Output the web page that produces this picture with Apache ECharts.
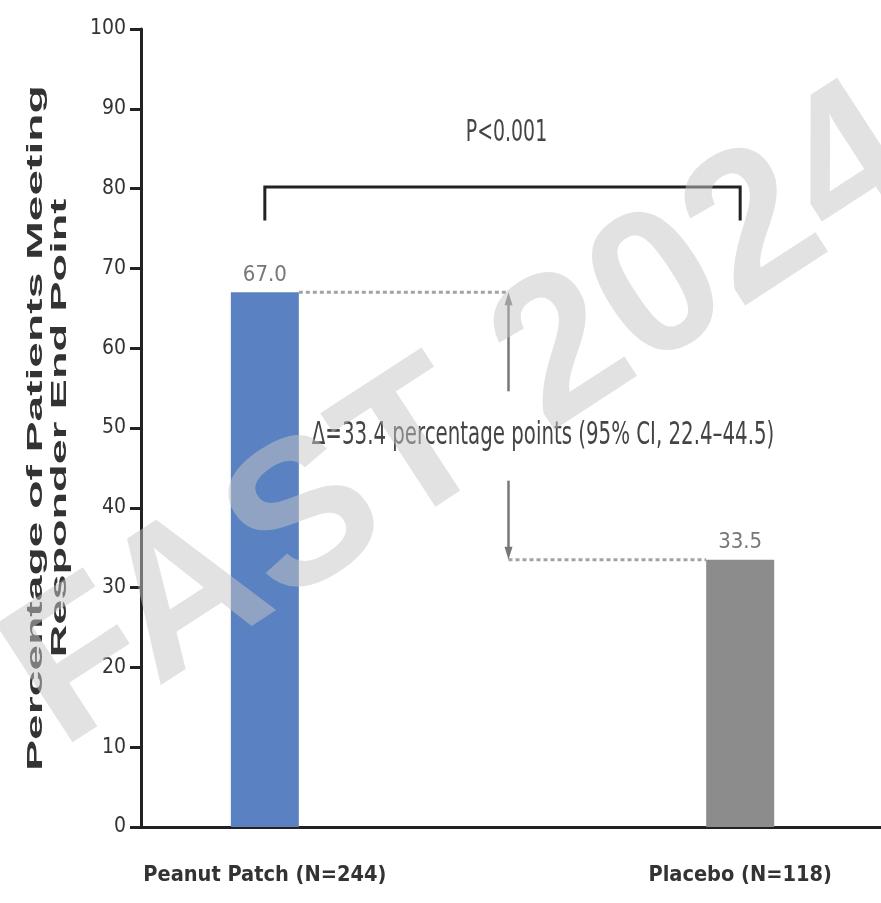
<!DOCTYPE html>
<html>
<head>
<meta charset="utf-8">
<title>Peanut Patch responder end point</title>
<script src="https://cdn.jsdelivr.net/npm/echarts@6/dist/echarts.min.js"></script>
<style>
  html, body { margin: 0; padding: 0; background: #fff; }
  #main { width: 881px; height: 903px; }
</style>
</head>
<body>
<div id="main"></div>
<script>
// data
var categories = ['Peanut Patch (N=244)', '', 'Placebo (N=118)'];
var responders = [67.0, null, 33.5];
var barColors = ['#5a81c1', null, '#8c8c8c'];
var yTicks = [0, 10, 20, 30, 40, 50, 60, 70, 80, 90, 100];
var pText = 'P<0.001';
var deltaText = 'Δ=33.4 percentage points (95% CI, 22.4–44.5)';
var yTitle = ['Percentage of Patients Meeting', 'Responder End Point'];
var watermark = 'FAST 2024';

// annotation levels (in axis units)
var bracketLevel = 80.2, bracketLeg = 76.0, pLevel = 87.0;
var deltaLevel = 49.0, arrowGapTop = 54.6, arrowGapBottom = 43.4;

var narrow = '"Liberation Sans Narrow", "DejaVu Sans Condensed", sans-serif';
var chart = echarts.init(document.getElementById('main'));

var option = {
    animation: false,
    backgroundColor: '#fff',
    grid: [
        {left: 141, right: 0, top: 29, bottom: 76},
        {left: 146, right: 22, top: 29, bottom: 76}
    ],
    xAxis: [
        {
            gridIndex: 0, type: 'value', min: 0, max: 1,
            axisLine: {show: true, lineStyle: {color: '#222', width: 3}},
            axisTick: {show: false}, axisLabel: {show: false}, splitLine: {show: false}
        },
        {
            gridIndex: 1, type: 'category', data: categories,
            axisLine: {show: false}, axisTick: {show: false},
            axisLabel: {
                margin: 37, color: '#333', fontFamily: narrow,
                fontWeight: 'bold', fontSize: 21.6
            }
        }
    ],
    yAxis: [
        {
            gridIndex: 0, type: 'value',
            min: yTicks[0], max: yTicks[yTicks.length - 1], interval: yTicks[1] - yTicks[0],
            axisLine: {show: true, lineStyle: {color: '#222', width: 3}},
            axisTick: {show: true, length: 11, lineStyle: {color: '#222', width: 3}},
            axisLabel: {margin: 15, color: '#333', fontFamily: narrow, fontSize: 21},
            splitLine: {show: false}
        },
        {
            gridIndex: 1, type: 'value',
            min: yTicks[0], max: yTicks[yTicks.length - 1],
            show: false, splitLine: {show: false}
        }
    ],
    series: [
        {
            type: 'bar',
            xAxisIndex: 1,
            yAxisIndex: 1,
            barWidth: 68,
            data: responders.map(function (v, i) {
                return {value: v, itemStyle: {color: barColors[i]}};
            }),
            label: {
                show: true, position: 'top', distance: 6,
                color: '#777', fontFamily: narrow, fontSize: 22,
                formatter: function (p) { return p.value == null ? '' : p.value.toFixed(1); }
            }
        }
    ]
};

chart.setOption(option);

// annotations placed through the axes
function px(cat, val) {
    return chart.convertToPixel({xAxisIndex: 1, yAxisIndex: 1}, [cat, val]);
}
var half = 34;
var a = px(0, responders[0]);
var b = px(2, responders[2]);
var mid = px(1, deltaLevel);
var yTop = px(1, arrowGapTop)[1], yBot = px(1, arrowGapBottom)[1];
var yBr = px(0, bracketLevel)[1], yLeg = px(0, bracketLeg)[1];
var yP = px(1, pLevel)[1];
var ax = mid[0] + 6;
var dotted = {stroke: '#a3a3a3', lineWidth: 3, lineDash: [4, 3]};
var arrowStyle = {stroke: '#777', lineWidth: 2.5};
var titleFont = 'bold 22px "Liberation Sans", Arial, sans-serif';

var graphics = [
    // bracket
    {type: 'polyline', shape: {points: [[a[0], yLeg], [a[0], yBr], [b[0], yBr], [b[0], yLeg]]},
        style: {stroke: '#222', lineWidth: 3, fill: null}},
    {type: 'text', x: (a[0] + b[0]) / 2 + 4, y: yP, scaleY: 1.45,
        style: {text: pText, fill: '#444', font: '21px ' + narrow, textAlign: 'center', textVerticalAlign: 'middle'}},
    // dotted reference lines
    {type: 'line', shape: {x1: a[0] + half, y1: a[1], x2: ax, y2: a[1]}, style: dotted},
    {type: 'line', shape: {x1: ax, y1: b[1], x2: b[0] - half, y2: b[1]}, style: dotted},
    // arrows
    {type: 'line', shape: {x1: ax, y1: a[1] + 10, x2: ax, y2: yTop}, style: arrowStyle},
    {type: 'polygon', shape: {points: [[ax, a[1]], [ax - 4, a[1] + 13], [ax + 4, a[1] + 13]]}, style: {fill: '#777'}},
    {type: 'line', shape: {x1: ax, y1: yBot, x2: ax, y2: b[1] - 10}, style: arrowStyle},
    {type: 'polygon', shape: {points: [[ax, b[1]], [ax - 4, b[1] - 13], [ax + 4, b[1] - 13]]}, style: {fill: '#777'}},
    {type: 'text', x: a[0] + half + 13, y: mid[1], scaleY: 1.45,
        style: {text: deltaText, fill: '#444', font: '22px ' + narrow, textAlign: 'left', textVerticalAlign: 'middle'}},
    // y axis title
    {type: 'text', x: 36, y: 428, rotation: Math.PI / 2, scaleX: 2.1,
        style: {text: yTitle[0], fill: '#333', font: titleFont, textAlign: 'center', textVerticalAlign: 'middle'}},
    {type: 'text', x: 60, y: 428, rotation: Math.PI / 2, scaleX: 2.05,
        style: {text: yTitle[1], fill: '#333', font: titleFont, textAlign: 'center', textVerticalAlign: 'middle'}},
    // watermark
    {type: 'text', x: 465, y: 420, rotation: 33 * Math.PI / 180, z: 100,
        style: {text: watermark, fill: 'rgba(198,198,198,0.5)', font: 'bold 205px "Liberation Sans", Arial, sans-serif',
            textAlign: 'center', textVerticalAlign: 'middle'}}
];

chart.setOption({graphic: graphics});
</script>
</body>
</html>
